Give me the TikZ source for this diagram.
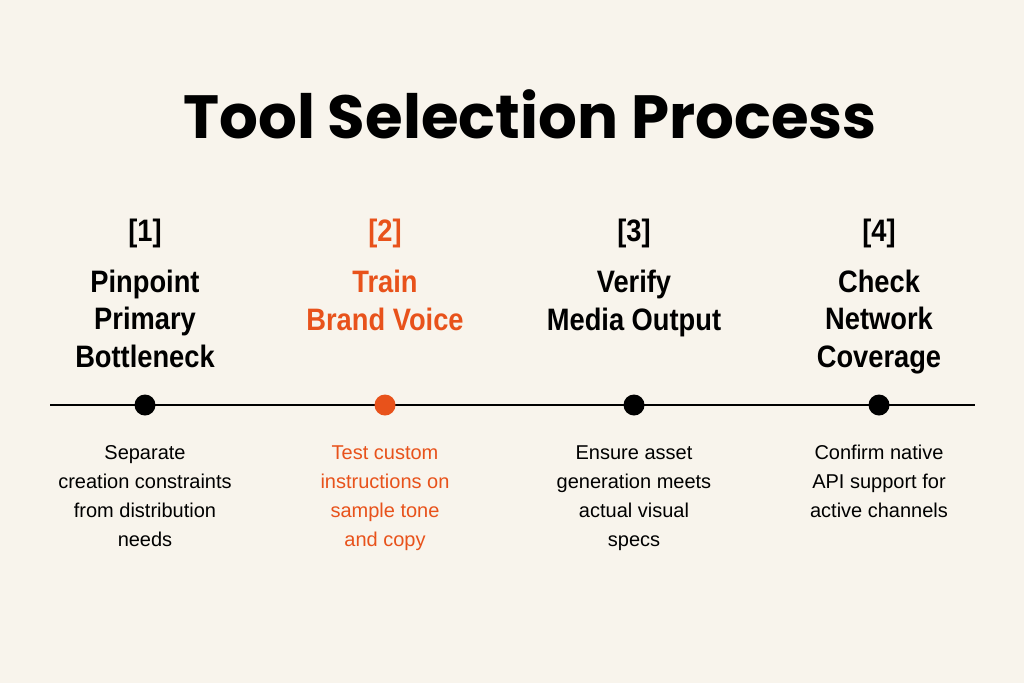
\documentclass[tikz,border=0pt]{standalone}
\usepackage{fontspec}
\setmainfont{Liberation Sans}
\newfontfamily\titlefont{Poppins}
\newfontfamily\headfont{Liberation Sans}[FakeStretch=0.88]
\usepackage{tikz}
\usetikzlibrary{positioning}
\definecolor{paper}{HTML}{F8F4EC}
\definecolor{brand}{HTML}{E8521B}

\begin{document}
\begin{tikzpicture}[x=1pt,y=-1pt,
    dot/.style={circle,fill=black,inner sep=0pt,minimum size=21pt},
    num/.style={font=\headfont\bfseries\fontsize{31}{37.5}\selectfont,anchor=base,inner sep=0pt},
    head/.style={font=\headfont\bfseries\fontsize{31}{37.5}\selectfont,align=center,anchor=base,inner sep=0pt},
    note/.style={font=\fontsize{20}{29}\selectfont,align=center,anchor=base,inner sep=0pt}]
    \fill[paper] (0,0) rectangle (1024,683);
    \useasboundingbox (0,0) rectangle (1024,683);

    % title
    \node[font=\titlefont\bfseries\fontsize{61}{70}\selectfont,anchor=base,inner sep=0pt] (title) at (530,138) {Tool Selection Process};

    % timeline
    \coordinate (start) at (50,405);
    \coordinate (end) at (975,405);
    \draw[line width=2pt] (start) -- (end);
    \node[dot] (d1) at (145,405) {};
    \node[dot,fill=brand] (d2) at (385,405) {};
    \node[dot] (d3) at (634,405) {};
    \node[dot] (d4) at (879,405) {};

    % steps (anchor base = last line)
    \node[num] (n1) at (145,241) {[1]};
    \node[num,text=brand] (n2) at (385,241) {[2]};
    \node[num] (n3) at (634,241) {[3]};
    \node[num] (n4) at (879,241) {[4]};

    \node[head] (h1) at (145,367) {Pinpoint\\Primary\\Bottleneck};
    \node[head,text=brand] (h2) at (385,330) {Train\\Brand Voice};
    \node[head] (h3) at (634,330) {Verify\\Media Output};
    \node[head] (h4) at (879,367) {Check\\Network\\Coverage};

    \node[note] (t1) at (145,546) {Separate\\creation constraints\\from distribution\\needs};
    \node[note,text=brand] (t2) at (385,546) {Test custom\\instructions on\\sample tone\\and copy};
    \node[note] (t3) at (634,546) {Ensure asset\\generation meets\\actual visual\\specs};
    \node[note] (t4) at (879,517) {Confirm native\\API support for\\active channels};
\end{tikzpicture}
\end{document}
